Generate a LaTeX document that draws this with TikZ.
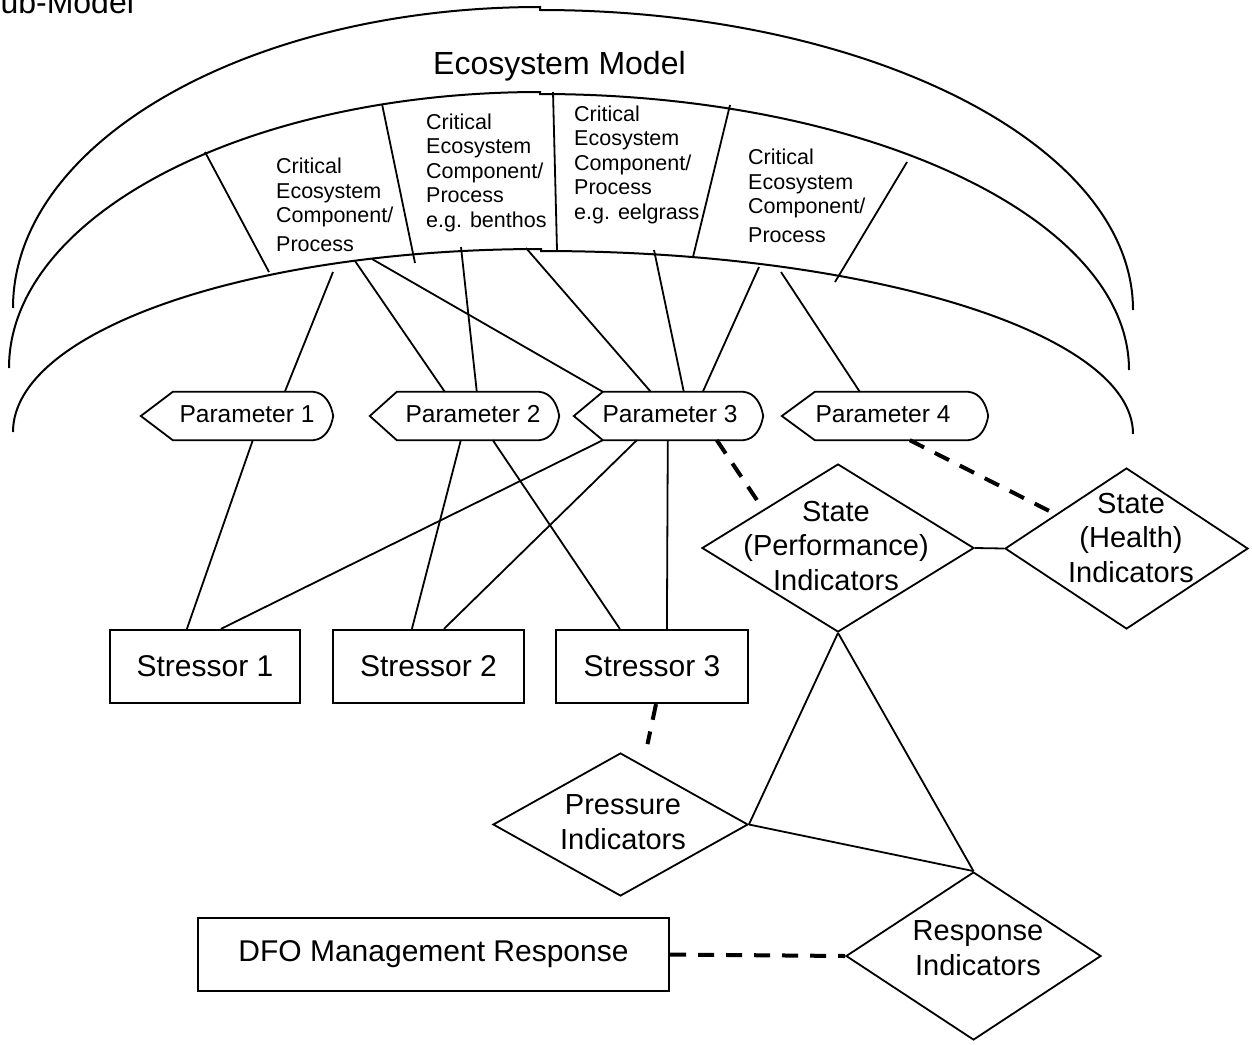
\documentclass[tikz,border=0pt]{standalone}
\usepackage{fontspec}
\setmainfont{Liberation Sans}
\usetikzlibrary{calc,shapes.geometric}
\newcommand{\paramoutline}[2]{%
  \draw[ln] (#1.west) -- ($(#1.north west)+(#2,0)$) -- ($(#1.north east)+(-20,0)$)
    .. controls ($(#1.north east)+(-8,1)$) and ($(#1.east)+(-2,-12)$) .. (#1.east)
    .. controls ($(#1.east)+(-2,12)$) and ($(#1.south east)+(-8,-1)$) .. ($(#1.south east)+(-20,0)$)
    -- ($(#1.south west)+(#2,0)$) -- cycle;}
\begin{document}
\begin{tikzpicture}[x=1pt,y=-1pt,
  ln/.style={line width=1.8pt},
  arcline/.style={line width=2pt},
  dsh/.style={line width=4pt, dash pattern=on 16pt off 12pt},
  box/.style={draw, line width=2.2pt, rectangle, inner sep=0pt, minimum height=73pt, font=\fontsize{30}{34}\selectfont},
  dia/.style={draw, diamond, line width=1.8pt, inner sep=0pt},
  ptext/.style={font=\fontsize{24.5}{28}\selectfont, inner sep=0pt},
  ctext/.style={font=\fontsize{21.5}{24.5}\selectfont, align=left, inner sep=0pt, anchor=base west},
  dtext/.style={font=\fontsize{29}{34.5}\selectfont, align=center, inner sep=0pt},
  pbox/.style={rectangle, inner sep=0pt, minimum height=48pt}
]
\useasboundingbox (0,0) rectangle (1252,1044);

% titles
\node[font=\fontsize{32}{38}\selectfont, anchor=base west, inner sep=0pt] (sub) at (-21,13) {Sub-Model};
\node[font=\fontsize{32}{38}\selectfont, anchor=base west, inner sep=0pt] (eco) at (433,74) {Ecosystem Model};

% arcs
\draw[arcline] (13,308) arc[start angle=180, end angle=270, x radius=527, y radius=301]
  -- (540,10) arc[start angle=270, end angle=360, x radius=593, y radius=300];
\draw[arcline] (9,368) arc[start angle=180, end angle=270, x radius=531, y radius=276]
  -- (540,94) arc[start angle=270, end angle=360, x radius=589, y radius=276];
\draw[arcline] (13,432) arc[start angle=180, end angle=270, x radius=528, y radius=183]
  -- (541,251) arc[start angle=270, end angle=360, x radius=592, y radius=183];

% sector dividers
\draw[ln] (205,152) -- (269,272);
\draw[ln] (382,104) -- (415,263);
\draw[ln] (553,92) -- (557,250);
\draw[ln] (730,105) -- (693,257);
\draw[ln] (907,162) -- (835,282);

% sector texts (anchor = baseline of last line)
\node[ctext] (k1) at (276,251) {Critical\\Ecosystem\\Component/\\[4pt]Process};
\node[ctext] (k2) at (426,227) {Critical\\Ecosystem\\Component/\\Process\\e.g. benthos};
\node[ctext] (k3) at (574,219) {Critical\\Ecosystem\\Component/\\Process\\e.g. eelgrass};
\node[ctext] (k4) at (748,242) {Critical\\Ecosystem\\Component/\\[4pt]Process};

% arc connection points
\coordinate (c1) at (333,272);
\coordinate (c2) at (355,261);
\coordinate (c3) at (372,259);
\coordinate (c4) at (461,247);
\coordinate (c5) at (526,248);
\coordinate (c6) at (654,250);
\coordinate (c7) at (759,267);
\coordinate (c8) at (781,272);

% parameters
\node[pbox, minimum width=192pt] (p1) at (237,416) {};
\node[pbox, minimum width=189pt] (p2) at (464.5,416) {};
\node[pbox, minimum width=189pt] (p3) at (668.5,416) {};
\node[pbox, minimum width=206pt] (p4) at (885,416) {};
\paramoutline{p1}{32}
\paramoutline{p2}{27}
\paramoutline{p3}{29}
\paramoutline{p4}{33}
\node[ptext] (p1t) at (247,414) {Parameter 1};
\node[ptext] (p2t) at (473,414) {Parameter 2};
\node[ptext] (p3t) at (670,414) {Parameter 3};
\node[ptext] (p4t) at (883,414) {Parameter 4};

% stressors
\node[box, minimum width=190pt] (s1) at (205,666.5) {Stressor 1};
\node[box, minimum width=191pt] (s2) at (428.5,666.5) {Stressor 2};
\node[box, minimum width=192pt] (s3) at (652,666.5) {Stressor 3};
\node[box, minimum width=471pt] (dfo) at (433.5,954.5) {DFO Management Response};

% indicators
\node[dia, minimum width=272pt, minimum height=168pt] (sp) at (838,548) {};
\node[dtext] (spt) at (836,546) {State\\(Performance)\\Indicators};
\node[dia, minimum width=243pt, minimum height=161pt] (sh) at (1126.5,548.5) {};
\node[dtext] (sht) at (1131,538) {State\\(Health)\\Indicators};
\node[dia, minimum width=255pt, minimum height=143pt] (pr) at (620.5,824.5) {};
\node[dtext] (prt) at (623,822) {Pressure\\Indicators};
\node[dia, minimum width=255pt, minimum height=168pt] (re) at (973.5,956) {};
\node[dtext] (ret) at (978,948) {Response\\Indicators};

% arcs to parameters
\draw[ln] (c1) -- ($(p1.north west)+(144,0)$);
\draw[ln] (c2) -- ($(p2.north west)+(75,0)$);
\draw[ln] (c3) -- ($(p3.north west)+(29,0)$);
\draw[ln] (c4) -- ($(p2.north west)+(107,0)$);
\draw[ln] (c5) -- ($(p3.north west)+(77,0)$);
\draw[ln] (c6) -- ($(p3.north west)+(110,0)$);
\draw[ln] (c7) -- ($(p3.north west)+(129,0)$);
\draw[ln] (c8) -- ($(p4.north west)+(78,0)$);

% parameters to stressors
\draw[ln] ($(p1.south west)+(112,0)$) -- ($(s1.north west)+(78,0)$);
\draw[ln] ($(p3.south west)+(29,0)$) -- ($(s1.north west)+(112,0)$);
\draw[ln] ($(p2.south west)+(91,0)$) -- ($(s2.north west)+(80,0)$);
\draw[ln] ($(p2.south west)+(123,0)$) -- ($(s3.north west)+(65,0)$);
\draw[ln] ($(p3.south west)+(63,0)$) -- ($(s2.north west)+(112,0)$);
\draw[ln] ($(p3.south west)+(94,0)$) -- ($(s3.north west)+(112,0)$);

% dashed and indicator links
\draw[dsh] ($(p3.south west)+(143,0)$) -- ($(sp.north)+(-79,40)$);
\draw[dsh] ($(p4.south west)+(128,0)$) -- ($(sh.north)+(-77,44)$);
\draw[ln] (sp.east) -- (sh.west);
\draw[dsh] ($(s3.south)+(4,0)$) -- ($(pr.north)+(27,-8)$);
\draw[ln] (sp.south) -- (pr.east);
\draw[ln] (pr.east) -- (re.north);
\draw[ln] (sp.south) -- (re.north);
\draw[dsh] (dfo.east) -- (re.west);
\end{tikzpicture}
\end{document}
